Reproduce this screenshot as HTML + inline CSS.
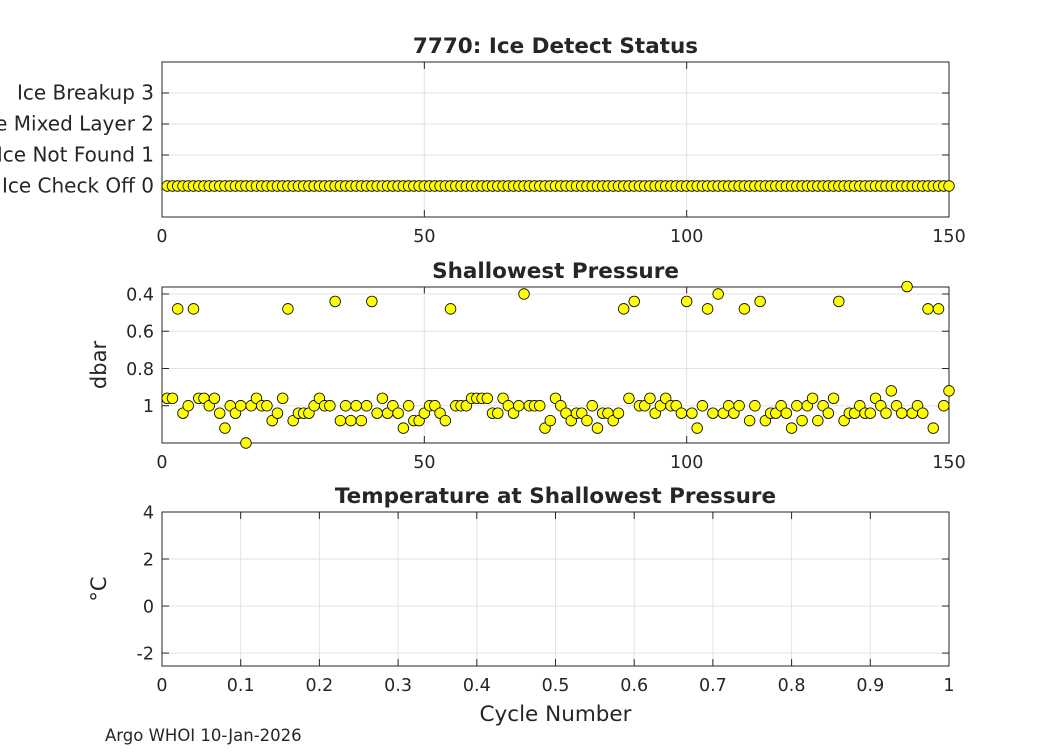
<!DOCTYPE html>
<html><head><meta charset="utf-8"><style>
body{margin:0;background:#fff;width:1050px;height:750px;overflow:hidden}
svg text{font-family:"DejaVu Sans","Liberation Sans",sans-serif;fill:#262626}
</style></head><body>
<svg id="fig" width="1050" height="750" viewBox="0 0 1050 750" xmlns="http://www.w3.org/2000/svg"></svg>
<script>
const cycles = Array.from({length:150},(_,i)=>i+1);
const iceStatus = new Array(150).fill(0);
const shallowPressure = [
0.96,0.96,0.48,1.04,1.0,0.48,0.96,0.96,1.0,0.96,1.04,1.12,1.0,1.04,1.0,1.2,1.0,0.96,1.0,1.0,
1.08,1.04,0.96,0.48,1.08,1.04,1.04,1.04,1.0,0.96,1.0,1.0,0.44,1.08,1.0,1.08,1.0,1.08,1.0,0.44,
1.04,0.96,1.04,1.0,1.04,1.12,1.0,1.08,1.08,1.04,1.0,1.0,1.04,1.08,0.48,1.0,1.0,1.0,0.96,0.96,
0.96,0.96,1.04,1.04,0.96,1.0,1.04,1.0,0.40,1.0,1.0,1.0,1.12,1.08,0.96,1.0,1.04,1.08,1.04,1.04,
1.08,1.0,1.12,1.04,1.04,1.08,1.04,0.48,0.96,0.44,1.0,1.0,0.96,1.04,1.0,0.96,1.0,1.0,1.04,0.44,
1.04,1.12,1.0,0.48,1.04,0.40,1.04,1.0,1.04,1.0,0.48,1.08,1.0,0.44,1.08,1.04,1.04,1.0,1.04,1.12,
1.0,1.08,1.0,0.96,1.08,1.0,1.04,0.96,0.44,1.08,1.04,1.04,1.0,1.04,1.04,0.96,1.0,1.04,0.92,1.0,
1.04,0.36,1.04,1.0,1.04,0.48,1.12,0.48,1.0,0.92];
const iceTickVals = [0,1,2,3];
const iceTickLabels = ["Ice Check Off 0","Ice Not Found 1","Ice Mixed Layer 2","Ice Breakup 3"];
const cycleTicks = [0,50,100,150];
const pressTicks = [0.4,0.6,0.8,1];
const pressTickLabels = ["0.4","0.6","0.8","1"];
const tempTicks = [-2,0,2,4];
const fracTicks = [0,0.1,0.2,0.3,0.4,0.5,0.6,0.7,0.8,0.9,1];

const NS="http://www.w3.org/2000/svg";
const svg=document.getElementById('fig');
function mk(tag,attrs,parent){const e=document.createElementNS(NS,tag);for(const k in attrs)e.setAttribute(k,attrs[k]);(parent||svg).appendChild(e);return e;}
function txt(s,attrs){const t=mk('text',attrs);t.textContent=s;return t;}

function axes(name,L,R,T,B,xmin,xmax,ymin,ymax,xt,xl,yt,yl,title,ylabel,rev,yfs){
  const g=mk('g',{});
  
  
  const sx=v=>L+(v-xmin)/(xmax-xmin)*(R-L);
  const sy=rev?(v=>T+(v-ymin)/(ymax-ymin)*(B-T)):(v=>B-(v-ymin)/(ymax-ymin)*(B-T));
  mk('rect',{x:L,y:T,width:R-L,height:B-T,fill:'#fff'},g);
  xt.forEach((v,i)=>{const x=sx(v);
    mk('line',{x1:x,x2:x,y1:T,y2:B,stroke:'#e3e3e3','stroke-width':1},g);
    mk('line',{x1:x,x2:x,y1:B,y2:B-7,stroke:'#262626'},g);
    mk('line',{x1:x,x2:x,y1:T,y2:T+7,stroke:'#262626'},g);
    const t=txt(xl[i],{x:x,y:B+25,'text-anchor':'middle','font-size':17.5});
    
    
  });
  yt.forEach((v,i)=>{const y=sy(v);
    mk('line',{x1:L,x2:R,y1:y,y2:y,stroke:'#e3e3e3','stroke-width':1},g);
    mk('line',{x1:L,x2:L+7,y1:y,y2:y,stroke:'#262626'},g);
    mk('line',{x1:R,x2:R-7,y1:y,y2:y,stroke:'#262626'},g);
    const t=txt(yl[i],{x:L-8,y:y+6.5,'text-anchor':'end','font-size':yfs});
    
    
  });
  mk('rect',{x:L,y:T,width:R-L,height:B-T,fill:'none',stroke:'#262626','stroke-width':1},g);
  const tt=txt(title,{x:(L+R)/2,y:T-9,'text-anchor':'middle','font-size':21.5,'font-weight':'bold'});
  
  
  if(ylabel){const yy=txt(ylabel,{x:0,y:0,'text-anchor':'middle','font-size':21,transform:`translate(${L-56},${(T+B)/2}) rotate(-90)`});
    
    }
  return {sx,sy};
}

const a1=axes('ice-status-axes',162,949,62,217,0,150,-1,4,cycleTicks,cycleTicks.map(String),iceTickVals,iceTickLabels,'7770: Ice Detect Status','',false,20);
cycles.forEach((c,i)=>{const p=mk('circle',{cx:a1.sx(c),cy:a1.sy(iceStatus[i]),r:5.3,fill:'#ffff00',stroke:'#000','stroke-width':0.8});
  
  });

const a2=axes('shallowest-pressure-axes',162,949,287,443,0,150,0.3625,1.2,cycleTicks,cycleTicks.map(String),pressTicks,pressTickLabels,'Shallowest Pressure','dbar',true,17.5);
cycles.forEach((c,i)=>{const p=mk('circle',{cx:a2.sx(c),cy:a2.sy(shallowPressure[i]),r:5.3,fill:'#ffff00',stroke:'#000','stroke-width':0.8});
  
  });

axes('temperature-axes',162,949,512,666,0,1,-2.55,4,fracTicks,fracTicks.map(String),tempTicks,tempTicks.map(String),'Temperature at Shallowest Pressure','°C',false,17.5);

const xl=txt('Cycle Number',{x:555.5,y:721,'text-anchor':'middle','font-size':21.5});


const ft=txt('Argo WHOI 10-Jan-2026',{x:105,y:741,'font-size':16.5});


</script>
</body></html>
